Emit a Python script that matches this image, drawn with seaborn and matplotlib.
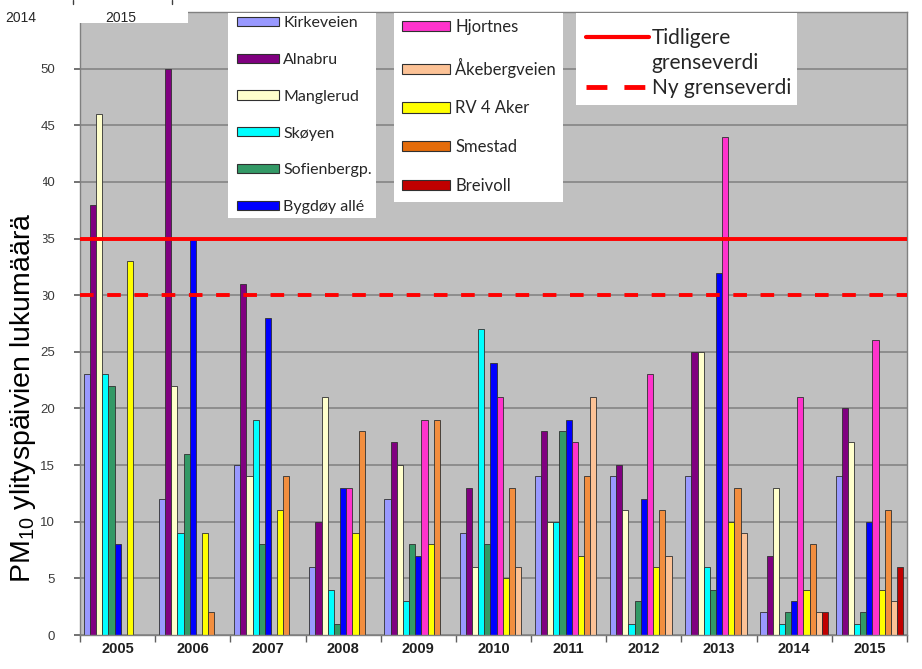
import numpy as np
import pandas as pd
import matplotlib
matplotlib.use('Agg')
import matplotlib.pyplot as plt
import seaborn as sns
from matplotlib.patches import Patch, Rectangle
from matplotlib.lines import Line2D

# PM10 exceedance days per station and year (NaN = no measurement)
years = ['2005', '2006', '2007', '2008', '2009', '2010', '2011', '2012', '2013', '2014', '2015']
kirkeveien = [23, 12, 15, 6, 12, 9, 14, 14, 14, 2, 14]
alnabru = [38, 50, 31, 10, 17, 13, 18, 15, 25, 7, 20]
manglerud = [46, 22, 14, 21, 15, 6, 10, 11, 25, 13, 17]
skoyen = [23, 9, 19, 4, 3, 27, 10, 1, 6, 1, 1]
sofienberg = [22, 16, 8, 1, 8, 8, 18, 3, 4, 2, 2]
bygdoy = [8, 35, 28, 13, 7, 24, 19, 12, 32, 3, 10]
hjortnes = [np.nan, np.nan, np.nan, 13, 19, 21, 17, 23, 44, 21, 26]
rv4_aker = [33, 9, 11, 9, 8, 5, 7, 6, 10, 4, 4]
smestad = [np.nan, 2, 14, 18, 19, 13, 14, 11, 13, 8, 11]
akebergveien = [np.nan, np.nan, np.nan, np.nan, np.nan, 6, 21, 7, 9, 2, 3]
breivoll = [np.nan] * 9 + [2, 6]

old_limit = 35
new_limit = 30

series = {
    'Kirkeveien': kirkeveien,
    'Alnabru': alnabru,
    'Manglerud': manglerud,
    'Skøyen': skoyen,
    'Sofienbergp.': sofienberg,
    'Bygdøy allé': bygdoy,
    'Hjortnes': hjortnes,
    'RV 4 Aker': rv4_aker,
    'Smestad': smestad,
    'Åkebergveien': akebergveien,
    'Breivoll': breivoll,
}
colors = {
    'Kirkeveien': '#9999FF',
    'Alnabru': '#800080',
    'Manglerud': '#FFFFCC',
    'Skøyen': '#00FFFF',
    'Sofienbergp.': '#339966',
    'Bygdøy allé': '#0000FF',
    'Hjortnes': '#FF33CC',
    'RV 4 Aker': '#FFFF00',
    'Smestad': '#F28E3F',
    'Åkebergveien': '#FCC296',
    'Breivoll': '#C00000',
}
legend_left = ['Kirkeveien', 'Alnabru', 'Manglerud', 'Skøyen', 'Sofienbergp.', 'Bygdøy allé']
legend_right = ['Hjortnes', 'Åkebergveien', 'RV 4 Aker', 'Smestad', 'Breivoll']

df = pd.DataFrame(
    [(y, name, v) for name, vals in series.items() for y, v in zip(years, vals)],
    columns=['year', 'station', 'value'],
)

sns.set_theme(style='ticks')
plt.rcParams['font.family'] = ['Liberation Sans', 'DejaVu Sans']
plt.rcParams['mathtext.fontset'] = 'custom'
plt.rcParams['mathtext.rm'] = 'Liberation Sans'

W, H = 922, 669
fig = plt.figure(figsize=(W / 100, H / 100), dpi=100)
fig.patch.set_facecolor('white')
ax = fig.add_axes([80 / W, 1 - 635 / H, 827 / W, 623 / H])
ax.set_facecolor('#C0C0C0')

sns.barplot(data=df, x='year', y='value', hue='station', order=years,
            hue_order=list(series.keys()), palette=colors, saturation=1,
            width=0.9, edgecolor='#303030', linewidth=0.6, errorbar=None,
            legend=False, ax=ax)

ax.axhline(old_limit, color='#FF0000', lw=2.8, zorder=3)
ax.axhline(new_limit, color='#FF0000', lw=2.8, ls=(0, (3.5, 3.5)), zorder=3)

ax.set_ylim(0, 55)
ax.set_xlim(-0.5, len(years) - 0.5)
ax.set_yticks(range(0, 51, 5))
ax.set_axisbelow(True)
ax.yaxis.grid(True, color='#7F7F7F', lw=1.1)
ax.xaxis.grid(False)
ax.set_xlabel('')
ax.set_ylabel('')
for s in ax.spines.values():
    s.set_visible(True)
    s.set_color('#808080')
    s.set_linewidth(1)

ax.tick_params(axis='x', which='major', length=0, pad=5, labelsize=10.5, labelcolor='#202020')
for lab in ax.get_xticklabels():
    lab.set_fontweight('bold')
ax.set_xticks(np.arange(-0.5, len(years), 1), minor=True)
ax.tick_params(axis='x', which='minor', length=5, color='#606060', width=1)
ax.tick_params(axis='y', length=4, color='#606060', labelsize=9.5, labelcolor='#3A3A3A', pad=14)

# the label's white backing clips the left edge of a few tick labels, as in the source
fig.add_artist(Rectangle((0, 1 - 318 / H), 43 / W, 146 / H, transform=fig.transFigure,
                         facecolor='white', edgecolor='none', zorder=1))
fig.text(23 / W, 1 - 398 / H, r'PM$_\mathregular{10}$ ylityspäivien lukumäärä',
         rotation=90, ha='center', va='center', fontsize=20.5, color='black', zorder=2)

# white legend boxes
boxes = [(228, 13, 376, 218), (394, 13, 563, 202), (576, 13, 797, 105)]
for x0, y0, x1, y1 in boxes:
    ax.add_patch(Rectangle((x0 / W, 1 - y1 / H), (x1 - x0) / W, (y1 - y0) / H,
                           transform=fig.transFigure, facecolor='white',
                           edgecolor='none', zorder=4, clip_on=False))

handles1 = [Patch(facecolor=colors[n], edgecolor='#303030', lw=0.8) for n in legend_left]
leg1 = ax.legend(handles1, legend_left, loc='upper left',
                 bbox_to_anchor=(237 / W, 1 - 16 / H), bbox_transform=fig.transFigure,
                 frameon=False, prop={'family': 'Lato', 'size': 11.5},
                 handlelength=2.6, handleheight=0.5, handletextpad=0.3,
                 labelspacing=1.43, borderpad=0, borderaxespad=0)
ax.add_artist(leg1)

legend_colors2 = dict(colors, Smestad='#E46C0A')
handles2 = [Patch(facecolor=legend_colors2[n], edgecolor='#303030', lw=0.8) for n in legend_right]
leg2 = ax.legend(handles2, legend_right, loc='upper left',
                 bbox_to_anchor=(402 / W, 1 - 19 / H), bbox_transform=fig.transFigure,
                 frameon=False, prop={'family': 'Lato', 'size': 12},
                 handlelength=2.9, handleheight=0.6, handletextpad=0.3,
                 labelspacing=1.36, borderpad=0, borderaxespad=0)
ax.add_artist(leg2)

handles3 = [Line2D([], [], color='#FF0000', lw=3),
            Line2D([], [], color='none'),
            Line2D([], [], color='#FF0000', lw=3.5, ls=(0, (4.3, 3.5)))]
leg3 = ax.legend(handles3, ['Tidligere', 'grenseverdi', 'Ny grenseverdi'], loc='upper left',
                 bbox_to_anchor=(586 / W, 1 - 28 / H), bbox_transform=fig.transFigure,
                 frameon=False, prop={'family': 'Lato', 'size': 15},
                 handlelength=3.0, handletextpad=0.15, labelspacing=0.24,
                 borderpad=0, borderaxespad=0)

# cropped header strip in the top-left corner
fig.add_artist(Rectangle((0, 1 - 22.7 / H), 188 / W, 22.7 / H, transform=fig.transFigure,
                         facecolor='white', edgecolor='none', zorder=10))
fig.text(5 / W, 1 - 17.5 / H, '2014', fontsize=10, va='center', ha='left', zorder=11)
fig.text(105 / W, 1 - 17.5 / H, '2015', fontsize=10, va='center', ha='left', zorder=11)
for xp in (73, 172):
    fig.add_artist(Line2D([xp / W, xp / W], [1, 1 - 4 / H], transform=fig.transFigure,
                          color='#404040', lw=1, zorder=11))

fig.savefig('out.png', dpi=100)
